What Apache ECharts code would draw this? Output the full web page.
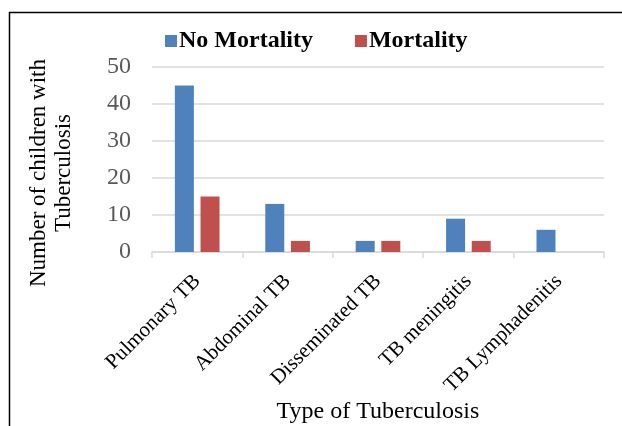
<!DOCTYPE html>
<html><head><meta charset="utf-8">
<script src="https://cdn.jsdelivr.net/npm/echarts@6/dist/echarts.min.js"></script>
<style>html,body{margin:0;padding:0;background:#fff}#c{width:622px;height:426px}</style>
</head><body><div id="c"></div>
<script>
const categories = ["Pulmonary TB", "Abdominal TB", "Disseminated TB", "TB meningitis", "TB Lymphadenitis"];
const noMortality = [45, 13, 3, 9, 6];
const mortality = [15, 3, 3, 3, 0];
const yTicks = [0, 10, 20, 30, 40, 50];

const F = "'Liberation Serif','Times New Roman',serif";
const chart = echarts.init(document.getElementById('c'), null, {renderer: 'canvas'});
chart.setOption({
  animation: false,
  textStyle: {fontFamily: F},
  legend: {
    left: 160, top: 24, itemWidth: 12, itemHeight: 12, itemGap: 42,
    icon: 'rect',
    textStyle: {fontFamily: F, fontSize: 24, fontWeight: 'bold', color: '#000', padding: [0,0,0,-3]},
    data: ['No Mortality', 'Mortality']
  },
  grid: {left: 152, right: 18, top: 67, bottom: 174, containLabel: false, outerBoundsMode: 'none'},
  xAxis: {
    type: 'category', data: categories,
    axisLine: {lineStyle: {color: '#d9d9d9', width: 1.5}},
    axisTick: {show: true, alignWithLabel: false, length: 6, lineStyle: {color: '#d9d9d9', width: 1.5}},
    axisLabel: {rotate: 45, fontFamily: F, fontSize: 21, color: '#000', margin: 26, interval: 0},
    name: 'Type of Tuberculosis', nameLocation: 'middle', nameGap: 145,
    nameTextStyle: {fontFamily: F, fontSize: 24, color: '#000'}
  },
  yAxis: {
    type: 'value', min: 0, max: 50, interval: 10,
    axisLine: {show: false}, axisTick: {show: false},
    splitLine: {lineStyle: {color: '#d9d9d9', width: 1.5}},
    axisLabel: {fontFamily: F, fontSize: 24, color: '#595959', margin: 21,
      formatter: v => yTicks.includes(v) ? String(v) : ''}
  },
  graphic: [
    {type: 'rect', shape: {x: 9.5, y: 12.5, width: 700, height: 500}, style: {fill: 'none', stroke: '#000', lineWidth: 1.5}, silent: true},
    {type: 'text', x: 38.5, y: 173, rotation: Math.PI/2, style: {text: 'Number of children with', font: "23px " + F, fill: '#000', align: 'center', verticalAlign: 'middle'}},
    {type: 'text', x: 64, y: 173, rotation: Math.PI/2, style: {text: 'Tuberculosis', font: "23px " + F, fill: '#000', align: 'center', verticalAlign: 'middle'}}
  ],
  series: [
    {name: 'No Mortality', type: 'bar', data: noMortality, barWidth: 19, barGap: '35%', itemStyle: {color: '#4f81bd'}},
    {name: 'Mortality', type: 'bar', data: mortality, barWidth: 19, itemStyle: {color: '#c0504d'}}
  ]
});
</script></body></html>
